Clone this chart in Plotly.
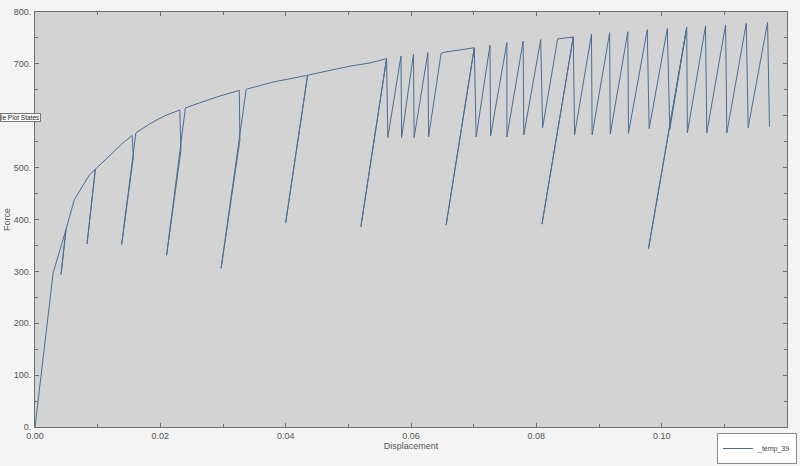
import plotly.graph_objects as go

# Displacement / Force path
displacement = [
    0.0, 0.0029, 0.00495, 0.00415, 0.00495, 0.0063, 0.0087, 0.00963, 0.0083, 0.00963,
    0.012, 0.0138, 0.0155, 0.0157, 0.01383, 0.0161, 0.0184, 0.0207, 0.0231, 0.0233,
    0.0210, 0.0240, 0.0263, 0.0295, 0.0326, 0.0327, 0.0297, 0.0337, 0.038, 0.0435,
    0.0400, 0.0435, 0.0465, 0.050, 0.0535, 0.0561, 0.0520, 0.0561, 0.0563, 0.0584,
    0.0585, 0.0604, 0.0605, 0.0627, 0.0628, 0.0648, 0.0651, 0.0701, 0.0656, 0.0701,
    0.0704, 0.0726, 0.0727, 0.0753, 0.0753, 0.0779, 0.0780, 0.0807, 0.0810, 0.0834,
    0.0859, 0.0809, 0.0859, 0.0861, 0.0888, 0.0889, 0.0917, 0.0918, 0.0946, 0.0947,
    0.0977, 0.0980, 0.1009, 0.1013, 0.1040, 0.0979, 0.1040, 0.1041, 0.1070, 0.1072,
    0.1102, 0.1104, 0.1135, 0.1138, 0.1169, 0.1172,
]
force = [
    0, 297, 381, 294, 381, 439, 486, 497, 353, 497,
    524, 545, 562, 521, 352, 567, 585, 600, 611, 534,
    331, 615, 625, 638, 649, 553, 306, 651, 665, 678,
    394, 678, 686, 695, 702, 710, 386, 710, 558, 715,
    558, 719, 558, 722, 559, 720, 722, 731, 389, 731,
    559, 736, 561, 741, 559, 744, 563, 747, 577, 748,
    752, 391, 752, 563, 757, 563, 760, 565, 762, 566,
    766, 575, 768, 574, 770, 344, 770, 567, 773, 567,
    775, 567, 778, 577, 780, 579,
]

x_ticks = [0.0, 0.02, 0.04, 0.06, 0.08, 0.10, 0.12]
x_tick_labels = ["0.00", "0.02", "0.04", "0.06", "0.08", "0.10", "0.12"]
y_ticks = [0, 100, 200, 300, 400, 500, 600, 700, 800]
y_tick_labels = ["0.", "100.", "200.", "300.", "400.", "500.", "600.", "700.", "800."]

FONT = "Liberation Sans, Arial, sans-serif"
TXT = "#555555"
AX = "#6e6e6e"

ML, MR, MT, MB = 35, 13, 12, 39
W, H = 800, 466
PW, PH = W - ML - MR, H - MT - MB

fig = go.Figure()
fig.add_trace(go.Scatter(
    x=displacement, y=force, mode="lines", name="_temp_39",
    line=dict(color="#4a6d94", width=1),
))

axis_common = dict(
    showgrid=False, zeroline=False, showline=True, linecolor=AX, linewidth=1,
    mirror="ticks", ticks="inside", ticklen=4, tickcolor=AX, automargin=False,
    tickfont=dict(family=FONT, size=9, color=TXT),
)

fig.update_layout(
    width=W, height=H,
    margin=dict(l=ML, r=MR, t=MT, b=MB, autoexpand=False),
    paper_bgcolor="#f4f4f4",
    plot_bgcolor="#d3d3d3",
    font=dict(family=FONT, size=9, color=TXT),
    showlegend=True,
    legend=dict(
        x=(797 - ML) / PW, y=-(464 - (MT + PH)) / PH, xanchor="right", yanchor="bottom",
        bgcolor="#ffffff", bordercolor="#8a8a8a", borderwidth=1,
        font=dict(family=FONT, size=7, color="#444444"),
        itemwidth=30, tracegroupgap=0,
    ),
    xaxis=dict(
        range=[0, 0.12], tickvals=x_ticks, ticktext=x_tick_labels,
        minor=dict(dtick=0.01, tick0=0, ticks="inside", ticklen=3, tickcolor=AX),
        title=dict(text="Displacement", font=dict(family=FONT, size=9, color=TXT), standoff=0),
        **axis_common,
    ),
    yaxis=dict(
        range=[0, 800], tickvals=y_ticks, ticktext=y_tick_labels,
        minor=dict(dtick=50, tick0=0, ticks="inside", ticklen=3, tickcolor=AX),
        title=dict(text="Force", font=dict(family=FONT, size=9, color=TXT), standoff=1),
        ticklabelstandoff=1,
        **axis_common,
    ),
)

# partially visible "Toggle Plot States" button at the left edge
fig.add_annotation(
    text="le Plot States", xref="paper", yref="paper",
    x=-ML / PW, y=1 - (117 - MT) / PH,
    xanchor="left", yanchor="middle", showarrow=False,
    font=dict(family=FONT, size=6.5, color="#222222"),
    bgcolor="#ffffff", bordercolor="#777777", borderwidth=1, borderpad=0,
)

fig.write_html(
    "out.html",
    config={"displayModeBar": False},
    post_script="document.body.style.margin='0';document.body.style.overflow='hidden';",
)
